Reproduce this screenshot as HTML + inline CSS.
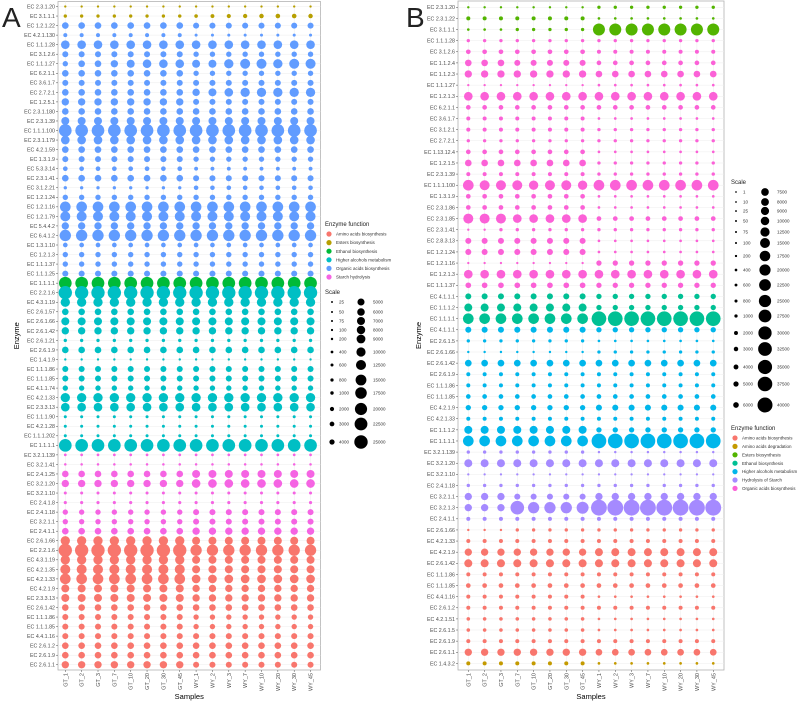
<!DOCTYPE html>
<html><head><meta charset="utf-8"><style>
body{margin:0;background:#fff;}
svg{display:block;font-family:"Liberation Sans",sans-serif;}
</style></head><body>
<svg id="chart" width="798" height="702" viewBox="0 0 798 702">
<text x="2" y="27" font-size="28" fill="#222">A</text>
<text x="406" y="27" font-size="28" fill="#222">B</text>
<g id="pa"></g>
<g id="pb"></g>
</svg>
<script>
const samples = ["GT_1","GT_2","GT_3","GT_7","GT_10","GT_20","GT_30","GT_45","WY_1","WY_2","WY_3","WY_7","WY_10","WY_20","WY_30","WY_45"];
function gw(g,w){return [g,g,g,g,g,g,g,g,w,w,w,w,w,w,w,w];}
// Panel A data
const aGroups = ["Amino acids biosynthesis","Esters biosynthesis","Ethanol biosynthesis","Higher alcohols metabolism","Organic acids biosynthesis","Starch hydrolysis"];
const aColors = ["#F8766D","#B79F00","#00BA38","#00BFC4","#619CFF","#F564E3"];
const aLabels = ["EC 2.3.1.20","EC 3.1.1.1","EC 1.2.1.22","EC 4.2.1.130","EC 1.1.1.28","EC 3.1.2.6","EC 1.1.1.27","EC 6.2.1.1","EC 3.6.1.7","EC 2.7.2.1","EC 1.2.5.1","EC 2.3.1.180","EC 2.3.1.39","EC 1.1.1.100","EC 2.3.1.179","EC 4.2.1.59","EC 1.3.1.9","EC 5.3.3.14","EC 2.3.1.41","EC 3.1.2.21","EC 1.2.1.24","EC 1.2.1.16","EC 1.2.1.79","EC 5.4.4.2","EC 6.4.1.2","EC 1.3.1.10","EC 1.2.1.3","EC 1.1.1.37","EC 1.1.1.25","EC 1.1.1.1","EC 2.2.1.6","EC 4.3.1.19","EC 2.6.1.57","EC 2.6.1.66","EC 2.6.1.42","EC 2.6.1.21","EC 2.6.1.9","EC 1.4.1.9","EC 1.1.1.86","EC 1.1.1.85","EC 4.1.1.74","EC 4.2.1.33","EC 2.3.3.13","EC 1.1.1.90","EC 4.2.1.28","EC 1.1.1.202","EC 1.1.1.1","EC 3.2.1.139","EC 3.2.1.41","EC 2.4.1.25","EC 3.2.1.20","EC 3.2.1.10","EC 2.4.1.8","EC 2.4.1.18","EC 3.2.1.1","EC 2.4.1.1","EC 2.6.1.66","EC 2.2.1.6","EC 4.3.1.19","EC 4.2.1.35","EC 4.2.1.33","EC 4.2.1.9","EC 2.3.3.13","EC 2.6.1.42","EC 1.1.1.86","EC 1.1.1.85","EC 4.4.1.16","EC 2.6.1.2","EC 2.6.1.9","EC 2.6.1.1"];
const aRowGroup = [1,1,4,4,4,4,4,4,4,4,4,4,4,4,4,4,4,4,4,4,4,4,4,4,4,4,4,4,4,2,3,3,3,3,3,3,3,3,3,3,3,3,3,3,3,3,3,5,5,5,5,5,5,5,5,5,0,0,0,0,0,0,0,0,0,0,0,0,0,0];
const aValues = [
 gw(25,25),
 [350,350,350,350,350,350,350,400,500,700,900,1000,1200,1300,1300,1200],
 gw(4100,3100),
 gw(770,200),
 gw(8400,8400),
 gw(3100,2200),
 [2200,4100,4100,5500,6900,8400,8400,8400,6900,6900,10300,12300,12300,10300,12300,12300],
 gw(4100,2200),
 gw(3100,3100),
 [4100,4100,4100,4100,4100,4100,4100,4100,5500,6900,8400,10300,10300,10300,10300,10300],
 gw(5500,3100),
 gw(4100,4100),
 gw(6900,6900),
 gw(21900,21900),
 gw(8500,8500),
 gw(4100,4100),
 gw(3100,2200),
 gw(1400,700),
 gw(4100,3100),
 gw(350,1300),
 gw(2200,2200),
 gw(14400,14400),
 gw(12300,12300),
 gw(5500,5500),
 gw(16700,16700),
 gw(1400,1400),
 gw(2200,2200),
 gw(2200,2200),
 gw(3100,3100),
 gw(21900,21900),
 gw(24700,24700),
 gw(10300,10300),
 gw(4100,4100),
 gw(6900,6900),
 gw(5500,5500),
 gw(350,350),
 gw(4100,4100),
 gw(25,25),
 gw(3100,3100),
 gw(3100,3100),
 gw(2200,2200),
 gw(10300,10300),
 gw(8500,8500),
 gw(200,200),
 gw(200,200),
 gw(200,200),
 gw(21900,21900),
 gw(100,100),
 gw(50,50),
 gw(4100,6900),
 gw(5500,8500),
 gw(200,200),
 gw(250,250),
 gw(2200,3100),
 gw(2200,3100),
 gw(4100,5500),
 gw(10300,6900),
 gw(24700,16700),
 gw(10300,6900),
 gw(12300,6900),
 gw(14400,8500),
 gw(6900,5500),
 gw(6900,5500),
 gw(4100,4100),
 gw(3100,2200),
 gw(3100,2200),
 gw(3100,3100),
 gw(4100,4100),
 gw(4100,4100),
 gw(5500,3100)
];
const aScaleLeft = [25,50,75,100,200,400,600,800,1000,2000,3000,4000];
const aScaleRight = [5000,6000,7000,8000,9000,10000,12500,15000,17500,20000,22500,25000];

// Panel B data
const bGroups = ["Amino acids biosynthesis","Amino acids degradation","Esters biosynthesis","Ethanol biosynthesis","Higher alcohols metabolism","Hydrolysis of Starch","Organic acids biosynthesis"];
const bColors = ["#F8766D","#C49A00","#53B400","#00C094","#00B6EB","#A58AFF","#FB61D7"];
const bLabels = ["EC 2.3.1.20","EC 2.3.1.22","EC 3.1.1.1","EC 1.1.1.28","EC 3.1.2.6","EC 1.1.2.4","EC 1.1.2.3","EC 1.1.1.27","EC 1.2.1.3","EC 6.2.1.1","EC 3.6.1.7","EC 3.1.2.1","EC 2.7.2.1","EC 1.13.12.4","EC 1.2.1.5","EC 2.3.1.39","EC 1.1.1.100","EC 1.3.1.9","EC 2.3.1.86","EC 2.3.1.85","EC 2.3.1.41","EC 2.8.3.13","EC 1.2.1.24","EC 1.2.1.16","EC 1.2.1.3","EC 1.1.1.37","EC 4.1.1.1","EC 1.1.1.2","EC 1.1.1.1","EC 4.1.1.1","EC 2.6.1.5","EC 2.6.1.66","EC 2.6.1.42","EC 2.6.1.9","EC 1.1.1.86","EC 1.1.1.85","EC 4.2.1.9","EC 4.2.1.33","EC 1.1.1.2","EC 1.1.1.1","EC 3.2.1.139","EC 3.2.1.20","EC 3.2.1.10","EC 2.4.1.18","EC 3.2.1.1","EC 3.2.1.3","EC 2.4.1.1","EC 2.6.1.66","EC 4.2.1.33","EC 4.2.1.9","EC 2.6.1.42","EC 1.1.1.86","EC 1.1.1.85","EC 4.4.1.16","EC 2.6.1.2","EC 4.2.1.51","EC 2.6.1.5","EC 2.6.1.9","EC 2.6.1.1","EC 1.4.3.2"];
const bRowGroup = [2,2,2,6,6,6,6,6,6,6,6,6,6,6,6,6,6,6,6,6,6,6,6,6,6,6,3,3,3,4,4,4,4,4,4,4,4,4,4,4,5,5,5,5,5,5,5,0,0,0,0,0,0,0,0,0,0,0,0,1];
const bValues = [
 gw(50,420),
 gw(950,105),
 [105,105,105,420,420,420,420,420,23700,23700,23700,23700,23700,23700,23700,23700],
 gw(420,420),
 gw(1700,950),
 [5150,5150,5150,3800,3800,3800,3800,3800,1700,1700,1700,1700,1700,1700,1700,1700],
 gw(6700,5150),
 gw(25,105),
 gw(10500,10500),
 gw(1700,1700),
 gw(950,105),
 gw(950,420),
 gw(420,420),
 gw(1700,105),
 gw(5150,420),
 gw(950,420),
 [17800,15100,15100,15100,12700,15100,15100,12700,17800,17800,17800,17800,17800,17800,17800,17800],
 gw(1700,105),
 gw(1700,105),
 [15100,15100,15100,10500,10500,10500,10500,10500,1700,1700,1700,1700,1700,1700,1700,1700],
 [25,25,420,420,420,420,420,420,420,420,420,420,420,420,420,420],
 gw(3800,105),
 gw(3800,105),
 gw(25,2600),
 gw(10500,10500),
 gw(3200,2600),
 gw(3800,2600),
 gw(8500,2600),
 gw(17800,38000),
 gw(3800,2600),
 gw(420,105),
 gw(50,420),
 gw(5150,5150),
 gw(950,950),
 gw(950,950),
 gw(1700,1700),
 gw(2600,3800),
 gw(950,950),
 gw(8500,2600),
 gw(17800,38000),
 gw(420,50),
 gw(8500,8500),
 gw(20,20),
 gw(420,420),
 [6700,6700,6700,3800,3800,3800,3800,3800,6700,6700,6700,6700,6700,6700,6700,6700],
 [6700,6700,6700,31600,20600,20600,20600,23700,45400,45400,45400,45400,45400,45400,45400,45400],
 gw(950,950),
 [50,50,50,420,420,420,420,420,420,420,420,420,420,420,420,420],
 gw(950,950),
 gw(6700,8500),
 gw(8500,8500),
 gw(950,950),
 gw(1700,1700),
 gw(950,105),
 gw(950,950),
 gw(600,105),
 gw(600,105),
 gw(950,950),
 gw(6700,5150),
 gw(950,105)
];
const bScaleLeft = [1,10,25,50,75,100,200,400,600,800,1000,2000,3000,4000,5000,6000];
const bScaleRight = [7500,8000,9000,10000,12500,15000,17500,20000,22500,25000,27500,30000,32500,35000,37500,40000];

const NS="http://www.w3.org/2000/svg";
function mk(parent,tag,attrs){const e=document.createElementNS(NS,tag);for(const k in attrs)e.setAttribute(k,attrs[k]);parent.appendChild(e);return e;}

function drawPanel(g,cfg){
  const {x0,dx,y0,dy,box,labels,values,rowGroup,colors,rmax,vmax,letter}=cfg;
  const xs=i=>x0+i*dx, ys=j=>y0+j*dy;
  const rs=v=>1+rmax*Math.sqrt(Math.max(v,0)/vmax);
  const bg=mk(g,'rect',{x:box[0],y:box[1],width:box[2]-box[0],height:box[3]-box[1],fill:'#fff',stroke:'#b3b3b3','stroke-width':0.8});
  
  
  const grid=mk(g,'g',{stroke:'#ececec','stroke-width':0.5});
  
  
  samples.forEach((s,i)=>mk(grid,'line',{x1:xs(i),x2:xs(i),y1:box[1],y2:box[3]}));
  labels.forEach((l,j)=>mk(grid,'line',{x1:box[0],x2:box[2],y1:ys(j),y2:ys(j)}));
  const yl=mk(g,'g',{'font-size':5.3,fill:'#4d4d4d','text-anchor':'end'});
  
  
  labels.forEach((l,j)=>{
    const t=mk(yl,'text',{x:box[0]-3,y:ys(j)+1.9});t.textContent=l;
    
    
    mk(yl,'line',{x1:box[0]-2,x2:box[0],y1:ys(j),y2:ys(j),stroke:'#4d4d4d','stroke-width':0.5});
  });
  const xl=mk(g,'g',{'font-size':5.5,fill:'#4d4d4d','text-anchor':'end'});
  
  
  samples.forEach((s,i)=>{
    const t=mk(xl,'text',{x:0,y:0,transform:`translate(${xs(i)+2},${box[3]+3}) rotate(-90)`});t.textContent=s;
    
    
    mk(xl,'line',{x1:xs(i),x2:xs(i),y1:box[3],y2:box[3]+2,stroke:'#4d4d4d','stroke-width':0.5});
  });
  const pts=mk(g,'g',{});
  
  
  values.forEach((row,j)=>row.forEach((v,i)=>{
    const c=mk(pts,'circle',{cx:xs(i),cy:ys(j),r:rs(v),fill:colors[rowGroup[j]]});
    
    
  }));
  const xt=mk(g,'text',{x:(box[0]+box[2])/2,y:699,'font-size':7.5,fill:'#000','text-anchor':'middle'});xt.textContent='Samples';
  
  
  const yt=mk(g,'text',{x:0,y:0,'font-size':7.5,fill:'#000','text-anchor':'middle',transform:`translate(${cfg.ytx},${(box[1]+box[3])/2}) rotate(-90)`});yt.textContent='Enzyme';
  
  
  return rs;
}

function drawLegend(g,cfg){
  const {groups,colors,fx,fy,fdy,sx,sy,sys,left,right,rs,letter}=cfg;
  const lg=mk(g,'g',{});
  
  
  const t=mk(lg,'text',{x:fx,y:fy,'font-size':6,fill:'#222'});t.textContent='Enzyme function';
  
  
  groups.forEach((n,k)=>{
    const yy=fy+8+k*fdy;
    const c=mk(lg,'circle',{cx:fx+4,cy:yy,r:2.6,fill:colors[k]});
    
    
    const tt=mk(lg,'text',{x:fx+11,y:yy+1.6,'font-size':4.5,fill:'#333'});tt.textContent=n;
    
    
  });
  const sg=mk(g,'g',{});
  
  
  const st=mk(sg,'text',{x:sx,y:sy,'font-size':6,fill:'#222'});st.textContent='Scale';
  
  
  left.forEach((v,k)=>{
    const yy=sys[k];
    const c=mk(sg,'circle',{cx:cfg.lx,cy:yy,r:rs(v)*0.8,fill:'#000'});
    
    
    const tt=mk(sg,'text',{x:cfg.lx+7,y:yy+1.6,'font-size':4.5,fill:'#333'});tt.textContent=v;
    
    
  });
  right.forEach((v,k)=>{
    const yy=sys[k];
    const c=mk(sg,'circle',{cx:cfg.rx,cy:yy,r:rs(v),fill:'#000'});
    
    
    const tt=mk(sg,'text',{x:cfg.rx+12,y:yy+1.6,'font-size':4.5,fill:'#333'});tt.textContent=v;
    
    
  });
}

const pa=document.getElementById('pa'), pb=document.getElementById('pb');
const rsA=drawPanel(pa,{x0:65.3,dx:16.35,y0:6.5,dy:9.54,box:[58,1.5,320.5,670],labels:aLabels,values:aValues,rowGroup:aRowGroup,colors:aColors,rmax:5.7,vmax:25000,letter:'a',ytx:19});
const rsB=drawPanel(pb,{x0:468.3,dx:16.33,y0:7.3,dy:11.12,box:[458,1,724,670],labels:bLabels,values:bValues,rowGroup:bRowGroup,colors:bColors,rmax:6.5,vmax:40000,letter:'b',ytx:421});
drawLegend(pa,{groups:aGroups,colors:aColors,fx:325,fy:226,fdy:8.6,sx:325,sy:294,sys:[302,312,321,330,339,352,365,380,393,409,424,442],left:aScaleLeft,right:aScaleRight,rs:rsA,lx:332,rx:361,letter:'a'});
drawLegend(pb,{groups:bGroups,colors:bColors,fx:731,fy:430,fdy:8.4,sx:731,sy:184,sys:[192,202,211,221,232,243,256,270,285,301,316,333,349,367,384,405],left:bScaleLeft,right:bScaleRight,rs:rsB,lx:736,rx:765,letter:'b'});
</script>
</body></html>
